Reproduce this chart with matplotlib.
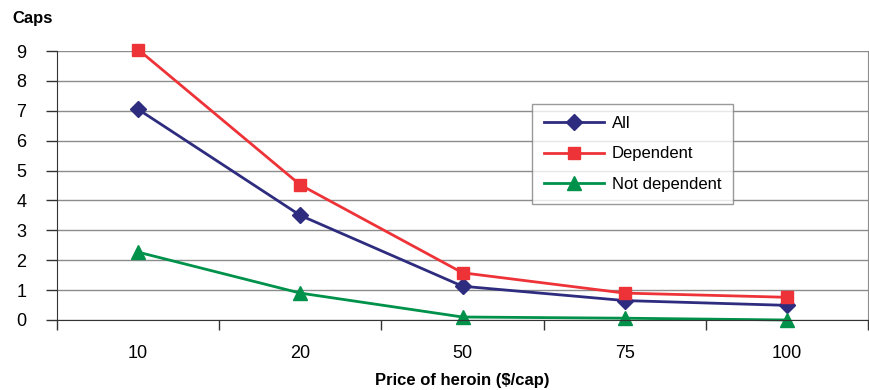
import matplotlib
matplotlib.use("Agg")
import matplotlib.pyplot as plt
import numpy as np

plt.rcParams['font.family'] = ['Liberation Sans', 'DejaVu Sans']

# Heroin consumption by price
prices = ["10", "20", "50", "75", "100"]
caps_all = [7.05, 3.5, 1.13, 0.65, 0.49]
caps_dependent = [9.05, 4.52, 1.58, 0.9, 0.76]
caps_not_dependent = [2.27, 0.9, 0.1, 0.06, 0.0]

navy = "#2E2C7E"
red = "#EE3338"
green = "#00924A"
grid_gray = "#8C8C8C"

fig = plt.figure(figsize=(8.69, 3.90), dpi=100)
ax = fig.add_axes([57/869, 70/390, 811/869, 269/390])

x = np.arange(len(prices))
ax.plot(x, caps_all, color=navy, lw=2, marker="D", ms=8, label="All", clip_on=False)
ax.plot(x, caps_dependent, color=red, lw=2, marker="s", ms=8, label="Dependent",
        clip_on=False)
ax.plot(x, caps_not_dependent, color=green, lw=2, marker="^", ms=10,
        label="Not dependent", clip_on=False)

ax.set_xlim(-0.5, len(prices) - 0.5)
ax.set_ylim(0, 9)
ax.set_yticks(range(10))
ax.yaxis.grid(True, color=grid_gray, lw=1)
ax.set_axisbelow(True)

# category labels centred, tick marks on the boundaries
ax.set_xticks(x)
ax.set_xticklabels(prices)
ax.set_xticks(np.arange(-0.5, len(prices)), minor=True)
ax.tick_params(axis="x", which="major", length=0, pad=18, labelsize=13)
ax.tick_params(axis="x", which="minor", length=7, color="#333333", width=1)
ax.tick_params(axis="y", length=8, color="#333333", width=1, pad=14, labelsize=13)

ax.spines["top"].set_visible(False)
ax.spines["left"].set_color("#333333")
ax.spines["bottom"].set_color("#333333")
ax.spines["right"].set_color(grid_gray)

fig.text(12/869, 1 - 18/390, "Caps", fontsize=12, fontweight="bold", va="center")
ax.set_xlabel("Price of heroin ($/cap)", fontsize=12, fontweight="bold", labelpad=8)

leg = ax.legend(loc="upper left", bbox_to_anchor=((532 - 57)/811, (320 - 104)/269),
                borderaxespad=0, frameon=True, fancybox=False, edgecolor="#808080",
                fontsize=12, handlelength=3.6, borderpad=0.7, labelspacing=0.95,
                handletextpad=0.5)
leg.get_frame().set_linewidth(1)

fig.savefig("out.png", dpi=100)
